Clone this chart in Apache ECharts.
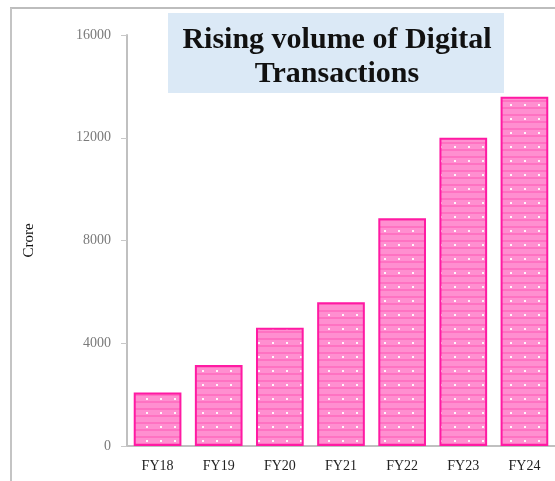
<!DOCTYPE html>
<html>
<head>
<meta charset="utf-8">
<script src="https://cdn.jsdelivr.net/npm/echarts@6/dist/echarts.min.js"></script>
<style>
  html, body { margin: 0; padding: 0; background: #fff; }
  #main { width: 555px; height: 481px; }
</style>
</head>
<body>
<div id="main"></div>
<script>
// data
var years = ['FY18', 'FY19', 'FY20', 'FY21', 'FY22', 'FY23', 'FY24'];
var volume = [2080, 3150, 4600, 5600, 8870, 12000, 13600];
var yTicks = [0, 4000, 8000, 12000, 16000];

// dotted pink fill, like the excel pattern
function makePattern() {
    var c = document.createElement('canvas');
    c.width = 14; c.height = 14;
    var ctx = c.getContext('2d');
    ctx.fillStyle = '#ff8fd0';
    ctx.fillRect(0, 0, 14, 14);
    ctx.fillStyle = '#ff72c2';
    ctx.fillRect(0, 2, 14, 2);
    ctx.fillRect(0, 9, 14, 2);
    ctx.fillStyle = '#fff4fa';
    ctx.fillRect(6, 6, 2, 2);
    return c;
}

var myChart = echarts.init(document.getElementById('main'));

var option = {
    animation: false,
    backgroundColor: '#fff',
    grid: { left: 127, right: 0, top: 35, bottom: 35 },
    graphic: [
        { type: 'line', shape: { x1: 10, y1: 8, x2: 555, y2: 8 }, style: { stroke: '#bdbdbd', lineWidth: 2 } },
        { type: 'line', shape: { x1: 11, y1: 8, x2: 11, y2: 481 }, style: { stroke: '#c4c4c4', lineWidth: 2 } },
        { type: 'rect', shape: { x: 168, y: 13, width: 336, height: 80 }, style: { fill: '#dbe9f6' }, z: 5 },
        {
            type: 'text', z: 6,
            style: {
                text: 'Rising volume of Digital\nTransactions',
                x: 337, y: 23, align: 'center', verticalAlign: 'top',
                font: 'bold 30px "Liberation Serif", "Times New Roman", serif',
                lineHeight: 34, fill: '#111'
            }
        }
    ],
    xAxis: {
        type: 'category',
        data: years,
        axisLine: { lineStyle: { color: '#c0c0c0', width: 2 } },
        axisTick: { show: false },
        axisLabel: { color: '#222', fontFamily: 'Liberation Serif', fontSize: 14, margin: 13 }
    },
    yAxis: {
        type: 'value',
        min: 0, max: 16000, interval: 4000,
        name: 'Crore',
        nameLocation: 'middle',
        nameGap: 90,
        nameTextStyle: { color: '#111', fontFamily: 'Liberation Serif', fontSize: 15 },
        axisLine: { show: true, lineStyle: { color: '#c0c0c0', width: 2 } },
        axisTick: { show: true, inside: false, length: 6, lineStyle: { color: '#c8c8c8' } },
        splitLine: { show: false },
        axisLabel: {
            color: '#7a7a7a', fontFamily: 'Liberation Serif', fontSize: 14, margin: 16,
            formatter: function (v) { return yTicks.indexOf(v) >= 0 ? String(v) : ''; }
        }
    },
    series: [{
        type: 'bar',
        data: volume,
        barWidth: '78%',
        itemStyle: {
            color: { image: makePattern(), repeat: 'repeat' },
            borderColor: '#ff1aa3',
            borderWidth: 2
        }
    }]
};

myChart.setOption(option);
</script>
</body>
</html>
